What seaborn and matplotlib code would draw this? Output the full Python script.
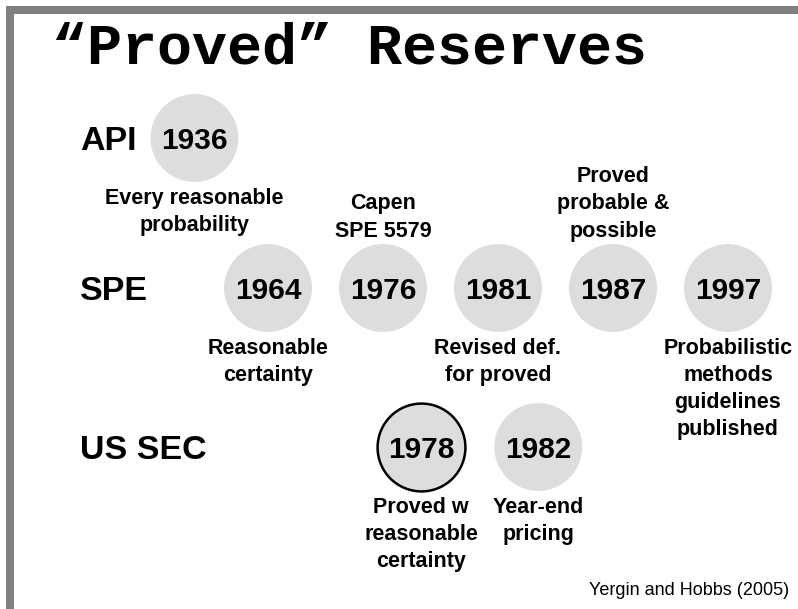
import seaborn as sns
import pandas as pd
import matplotlib.pyplot as plt

# events on the reserves-definition timeline
years = [1936, 1964, 1976, 1981, 1987, 1997, 1978, 1982]
bodies = ["API", "SPE", "SPE", "SPE", "SPE", "SPE", "US SEC", "US SEC"]
notes = [
    "Every reasonable\nprobability",
    "Reasonable\ncertainty",
    "Capen\nSPE 5579",
    "Revised def.\nfor proved",
    "Proved\nprobable &\npossible",
    "Probabilistic\nmethods\nguidelines\npublished",
    "Proved w\nreasonable\ncertainty",
    "Year-end\npricing",
]
note_side = ["below", "below", "above", "below", "above", "below", "below", "below"]
highlighted = [1978]
row_labels = ["API", "SPE", "US SEC"]

# layout: column slot of each year, row of each body
column_slot = {1936: 0.36, 1964: 1, 1976: 2, 1981: 3, 1987: 4, 1997: 5, 1978: 2.33, 1982: 3.35}
row_slot = {"API": 0, "SPE": 1, "US SEC": 2.06}

df = pd.DataFrame({"year": years, "body": bodies, "note": notes, "side": note_side})
df["x"] = df["year"].map(column_slot)
df["y"] = df["body"].map(row_slot)
df["hl"] = df["year"].isin(highlighted)

sns.set_theme(style="white")
plt.rcParams["font.family"] = ["Liberation Sans", "DejaVu Sans"]
plt.rcParams["text.color"] = "black"

fig = plt.figure(figsize=(7.98, 6.09), dpi=100)
ax = fig.add_axes([0, 0, 1, 1])
ax.set_xlim(-1.3304, 5.6087)
ax.set_ylim(3.14, -0.92)
ax.axis("off")

circle_grey = "#dddddd"
sns.scatterplot(data=df[~df["hl"]], x="x", y="y", s=4000, color=circle_grey,
                edgecolor="none", linewidth=0, legend=False, ax=ax)
sns.scatterplot(data=df[df["hl"]], x="x", y="y", s=4000, color=circle_grey,
                edgecolor="black", linewidth=1.8, legend=False, ax=ax)

for _, r in df.iterrows():
    ax.text(r["x"], r["y"], str(r["year"]), ha="center", va="center_baseline",
            fontsize=21.5, fontweight="bold")
    if r["side"] == "below":
        ax.text(r["x"], r["y"] + 0.335, r["note"], ha="center", va="top",
                fontsize=15.5, fontweight="bold", linespacing=1.38)
    else:
        ax.text(r["x"], r["y"] - 0.31, r["note"], ha="center", va="bottom",
                fontsize=15.5, fontweight="bold", linespacing=1.38)

for lab in row_labels:
    ax.text(-0.635, row_slot[lab], lab, ha="left", va="center_baseline",
            fontsize=24.5, fontweight="bold")

fig.text(52 / 798, 1 - 63 / 609, "\u201cProved\u201d Reserves", ha="left", va="baseline",
         fontsize=42, fontweight="bold", family="Liberation Mono")
fig.text(789 / 798, 1 - 595 / 609, "Yergin and Hobbs (2005)", ha="right", va="baseline",
         fontsize=13)

# grey frame on top and left
fig.add_artist(plt.Rectangle((6 / 798, 1 - 14 / 609), 1, 8 / 609, transform=fig.transFigure,
                             color="#808080", lw=0))
fig.add_artist(plt.Rectangle((6 / 798, 0), 8 / 798, 1 - 6 / 609, transform=fig.transFigure,
                             color="#808080", lw=0))

fig.savefig("out.png", dpi=100)
